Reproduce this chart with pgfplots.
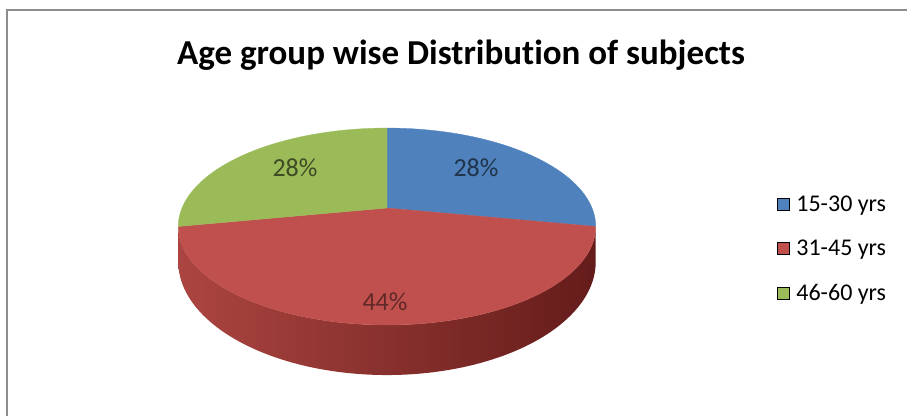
\documentclass[border=0pt]{standalone}
\usepackage{pgfplots}
\pgfplotsset{compat=1.18}
\usepackage{pgfplotstable}
\usepackage{fontspec}
\setmainfont{Carlito}[Ligatures=NoCommon]
\definecolor{cblue}{HTML}{4F81BD}
\definecolor{cred}{HTML}{C0504D}
\definecolor{cgreen}{HTML}{9BBB59}
\definecolor{sideL}{HTML}{AC4541}
\definecolor{sideR}{HTML}{641C1A}
\definecolor{frame}{HTML}{8C8C8C}

\pgfplotstableread{
group value
15-30 28
31-45 44
46-60 28
}\pietable

\begin{document}%
\begin{tikzpicture}
\pgfplotstablegetelem{0}{value}\of\pietable \pgfmathsetmacro\va{\pgfplotsretval}
\pgfplotstablegetelem{1}{value}\of\pietable \pgfmathsetmacro\vb{\pgfplotsretval}
\pgfplotstablegetelem{2}{value}\of\pietable \pgfmathsetmacro\vc{\pgfplotsretval}
\pgfmathsetmacro\tot{\va+\vb+\vc}
\pgfmathsetmacro\aA{360*\va/\tot}
\pgfmathsetmacro\aB{\aA+360*\vb/\tot}
\begin{axis}[
  width=907pt, height=416pt, scale only axis,
  xmin=0, xmax=907, ymin=0, ymax=416, y dir=reverse,
  hide axis, clip=false,
  declare function={
    ww(\t)=1+0.188*cos(\t);
    px(\t)=387+205*sin(\t)/ww(\t);
    py(\t)=208-95*cos(\t)/ww(\t);
    pyb(\t)=py(\t)+33/(ww(\t)^2);
    th(\s)=ifthenelse(\s<=1, \aA+\s*(\aB-\aA), \aB-(\s-1)*(\aB-\aA));
    sx(\s)=px(th(\s));
    sy(\s)=ifthenelse(\s<=1, py(th(\s)), pyb(th(\s)));
  },
  legend style={at={(axis cs:777,249)}, anchor=west, draw=none, fill=none,
    font=\fontsize{24}{27}\selectfont, row sep=23pt, inner sep=0pt,
    /tikz/every even column/.append style={column sep=4pt}},
  legend cell align=left,
  legend image code/.code={\fill[#1] (0pt,-6pt) rectangle (12pt,6pt); \path[draw=none, fill=none] (0pt,0pt) -- (17pt,0pt);},
]
% frame
\draw[frame, line width=1.6pt] (axis cs:7,416) -- (axis cs:7,10) -- (axis cs:907,10);
% side of the red slice
\addplot[forget plot, draw=none, left color=sideL, right color=sideR,
  domain=0:2, samples=201, variable=\s] ({sx(s)},{sy(s)}) -- cycle;
% tops
\addplot[forget plot, fill=cblue, draw=cblue, line width=0.3pt, domain=0:\aA, samples=80, variable=\t]
  ({px(t)},{py(t)}) -- (axis cs:387,208) -- cycle;
\addplot[forget plot, fill=cred, draw=cred, line width=0.3pt, domain=\aA:\aB, samples=120, variable=\t]
  ({px(t)},{py(t)}) -- (axis cs:387,208) -- cycle;
\addplot[forget plot, fill=cgreen, draw=cgreen, line width=0.3pt, domain=\aB:360, samples=80, variable=\t]
  ({px(t)},{py(t)}) -- (axis cs:387,208) -- cycle;
% labels
\node[font=\fontsize{26}{29}\selectfont, text=cgreen!40!black] at (axis cs:295,168) {28\%};
\node[font=\fontsize{26}{29}\selectfont, text=cblue!40!black] at (axis cs:476,168) {28\%};
\node[font=\fontsize{26}{29}\selectfont, text=cred!50!black] at (axis cs:385,302) {44\%};
% title
\node[font=\fontsize{35}{40}\selectfont\bfseries, anchor=base] at (axis cs:461,64) {Age group wise Distribution of subjects};
% legend
\addlegendimage{fill=cblue}
\addlegendentry{15-30 yrs}
\addlegendimage{fill=cred}
\addlegendentry{31-45 yrs}
\addlegendimage{fill=cgreen}
\addlegendentry{46-60 yrs}
\end{axis}
\pgfresetboundingbox
\path (current axis.south west) rectangle (current axis.north east);
\end{tikzpicture}%
\end{document}
